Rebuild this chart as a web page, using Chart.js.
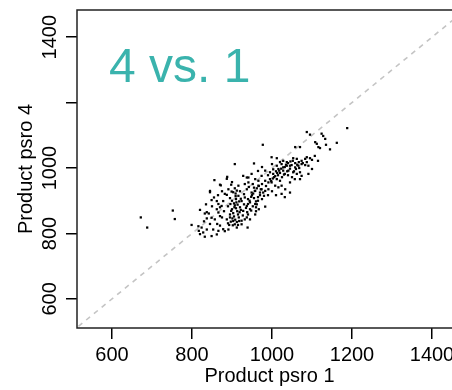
<!DOCTYPE html>
<html>
<head>
<meta charset="utf-8">
<script src="https://cdn.jsdelivr.net/npm/chart.js@4/dist/chart.umd.min.js"></script>
<style>
  html, body { margin: 0; padding: 0; background: #fff; overflow: hidden; }
  #wrap { width: 452px; height: 390px; overflow: hidden; }
</style>
</head>
<body>
<div id="wrap"><canvas id="plot" width="470" height="390"></canvas></div>
<script>

// values
const psro1 = [
    1188,1087,1095,1124,1128,1133,1108,1112,1116,1120,
    1135,1162,1145,977,1058,1070,955,907,999,1012,
    1020,1028,1037,1045,1053,1062,1074,1083,1087,1095,
    1091,1091,1012,1024,1037,1049,1058,1066,1074,1083,
    1016,1028,1041,1053,1062,1070,1074,995,1003,983,
    974,949,941,958,966,983,991,999,1012,1020,
    1008,1016,1024,1033,1045,966,974,958,983,991,
    1045,949,937,1024,983,958,937,924,928,937,
    941,888,856,870,898,907,916,845,891,899,
    887,895,855,862,849,878,874,909,910,911,
    907,910,913,905,924,932,937,928,940,820,
    832,842,849,862,866,870,895,887,903,907,
    912,816,824,837,853,862,849,882,891,924,
    932,939,672,688,752,757,799,837,845,845,
    866,870,817,820,828,863,870,878,866,882,
    903,912,887,872,
    950,955,960,965,970,962,952,945,940,975,
    967,945,930,920,915,900,895,890,902,917,
    930,920,942,952,975,985,995,1005,1015,1025,
    1032,1040,1050,1060,1067,1077,1087,1100,1107,1032,
    1020,1000,990,975,965,932,900,875,865,890,
    880,857,875,850,835,830,837,927,945,960,
    990,1000,1010,1032,1057,1070,1100,1115,832,
    893,897,901,905,908,912,915,918,903,898,
    906,914,918,922,916,909,900,896,919,922,
    935,940,944,948,953,957,962,967,970,965,
    958,948,938,955,972,978,980,960,
    998,1002,1008,1013,1018,1023,1028,1035,1040,1046,
    1052,1058,1063,1045,1038,1030,1010,1003,1055,1068
];

const psro4 = [
    1122,1110,1102,1105,1098,1089,1079,1074,1064,1061,
    1071,1077,1057,1071,1064,1064,1014,1012,1033,1030,
    1018,1022,1018,1007,1030,1028,1022,1028,1033,1030,
    1007,982,1007,1012,1007,1009,1002,1007,1012,1009,
    997,992,992,987,982,987,976,987,982,992,
    976,982,971,966,961,961,956,956,966,961,
    946,941,946,935,956,946,935,930,930,935,
    925,925,935,921,882,858,849,839,976,971,
    956,973,963,949,949,938,946,930,935,928,
    918,908,910,899,902,899,884,914,905,895,
    886,877,868,892,899,910,884,869,858,872,
    861,861,848,874,864,853,858,843,838,828,
    818,822,818,812,812,797,792,807,812,828,
    843,818,849,818,870,844,826,865,829,926,
    890,880,808,798,803,829,824,813,808,921,
    926,931,967,947,
    917,908,898,911,917,889,883,895,905,905,
    874,874,889,880,858,874,849,831,825,849,
    920,929,942,951,951,945,966,972,978,972,
    982,978,972,997,1018,1015,1018,1025,1037,1003,
    985,1012,978,1003,991,951,957,929,917,883,
    868,843,849,883,889,837,846,855,843,868,
    917,929,917,911,966,966,997,1022,790,
    826,836,846,852,842,835,826,838,862,869,
    880,888,898,906,915,922,900,890,865,872,
    878,890,900,912,922,930,938,945,925,900,
    890,870,865,940,935,925,915,880,
    960,968,975,985,992,998,1002,1010,1015,1020,
    1022,1015,1010,998,990,980,990,996,990,1000
];

const xTicks = [600, 800, 1000, 1200, 1400];
const yTicks = [600, 800, 1000, 1200, 1400];
const yTickLabels = ['600', '800', '1000', '', '1400'];
const xRange = [512.5, 1475];
const yRange = [511, 1483];
const diagLine = [400, 1600];   // y = x reference line
const panelLabel = '4 vs. 1';

const FONT = "'Liberation Sans', Arial, Helvetica, sans-serif";

const points = psro1.map((x, i) => ({ x: x, y: psro4[i] }));


// box round the plot, rotated y labels, panel label
const rStyle = {
    id: 'rStyle',
    afterDraw(chart) {
        const ctx = chart.ctx;
        const a = chart.chartArea;
        const ys = chart.scales.y;

        ctx.save();
        ctx.strokeStyle = '#222';
        ctx.lineWidth = 1.5;
        ctx.strokeRect(a.left, a.top, a.right - a.left, a.bottom - a.top);

        ctx.fillStyle = '#000';
        ctx.font = '20px ' + FONT;
        ctx.textAlign = 'center';
        ctx.textBaseline = 'middle';
        yTicks.forEach((v, i) => {
            const py = ys.getPixelForValue(v);
            ctx.save();
            ctx.translate(a.left - 27, py);
            ctx.rotate(-Math.PI / 2);
            ctx.fillText(yTickLabels[i], 0, 0);
            ctx.restore();
        });

        ctx.fillStyle = '#3ab3ad';
        ctx.font = '48px ' + FONT;
        ctx.textAlign = 'left';
        ctx.textBaseline = 'alphabetic';
        ctx.fillText(panelLabel, a.left + 32, a.top + 72);
        ctx.restore();
    }
};


new Chart(document.getElementById('plot'), {
    type: 'scatter',
    data: {
        datasets: [
            {
                data: points,
                pointStyle: 'rect',
                pointRadius: 1.6,
                pointBorderWidth: 0,
                backgroundColor: '#000',
                borderColor: '#000',
                order: 1
            },
            {
                type: 'line',
                data: diagLine.map(v => ({ x: v, y: v })),
                borderColor: '#c4c4c4',
                borderWidth: 1.6,
                borderDash: [5, 5],
                pointRadius: 0,
                fill: false,
                order: 2
            }
        ]
    },
    plugins: [rStyle],
    options: {
        responsive: false,
        animation: false,
        events: [],
        layout: { padding: { left: 0, top: 10, right: 8, bottom: 0 } },
        plugins: { legend: { display: false }, tooltip: { enabled: false } },
        scales: {
            x: {
                type: 'linear',
                min: xRange[0],
                max: xRange[1],
                afterBuildTicks: s => { s.ticks = xTicks.map(v => ({ value: v })); },
                afterFit: s => { s.height = 62; },
                border: { display: false },
                grid: { drawOnChartArea: false, drawTicks: true, tickLength: 11, tickColor: '#000', lineWidth: 1.5 },
                ticks: {
                    color: '#000', padding: 4, maxRotation: 0,
                    font: { family: FONT, size: 20 },
                    callback: v => String(v)
                },
                title: { display: true, text: 'Product psro 1', color: '#000', padding: { top: 0, bottom: 2 }, font: { family: FONT, size: 20 } }
            },
            y: {
                type: 'linear',
                min: yRange[0],
                max: yRange[1],
                afterBuildTicks: s => { s.ticks = yTicks.map(v => ({ value: v })); },
                afterFit: s => { s.width = 77; },
                border: { display: false },
                grid: { drawOnChartArea: false, drawTicks: true, tickLength: 11, tickColor: '#000', lineWidth: 1.5 },
                ticks: { display: false },
                title: { display: true, text: 'Product psro 4', color: '#000', padding: { top: 14, bottom: 0 }, font: { family: FONT, size: 20 } }
            }
        }
    }
});
</script>
</body>
</html>
